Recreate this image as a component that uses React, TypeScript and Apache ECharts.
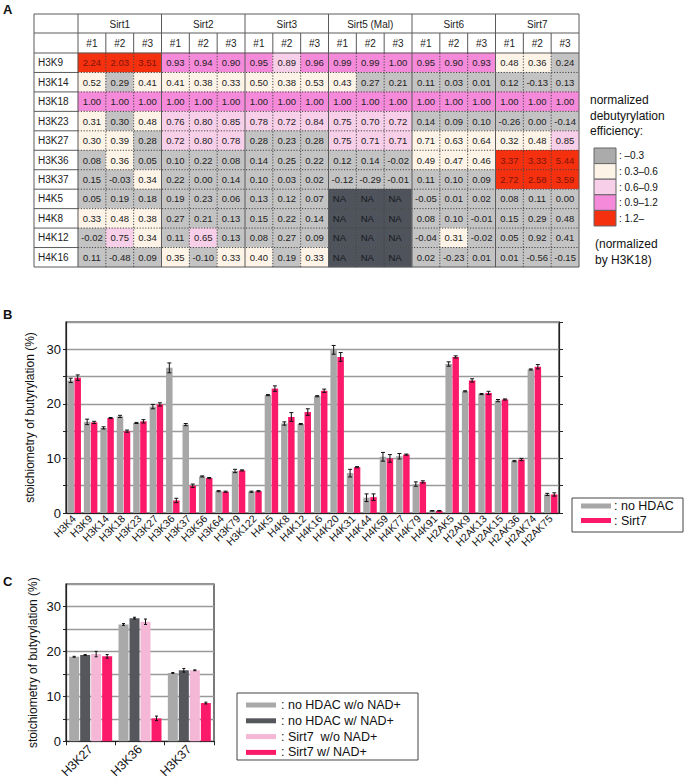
import React, { useEffect, useRef } from 'react';
import * as echarts from 'echarts';

// ---------- Panel A data ----------
const HM_ROWS = ['H3K9', 'H3K14', 'H3K18', 'H3K23', 'H3K27', 'H3K36', 'H3K37', 'H4K5', 'H4K8', 'H4K12', 'H4K16'];
const HM_GROUPS = ['Sirt1', 'Sirt2', 'Sirt3', 'Sirt5 (Mal)', 'Sirt6', 'Sirt7'];
const HM_REPS = ['#1', '#2', '#3'];
const NA = null;
const HM_VALUES: (number | null)[][] = [
  [2.24, 2.03, 3.51, 0.93, 0.94, 0.90, 0.95, 0.89, 0.96, 0.99, 0.99, 1.00, 0.95, 0.90, 0.93, 0.48, 0.36, 0.24],
  [0.52, 0.29, 0.41, 0.41, 0.38, 0.33, 0.50, 0.38, 0.53, 0.43, 0.27, 0.21, 0.11, 0.03, 0.01, 0.12, -0.13, 0.13],
  [1.00, 1.00, 1.00, 1.00, 1.00, 1.00, 1.00, 1.00, 1.00, 1.00, 1.00, 1.00, 1.00, 1.00, 1.00, 1.00, 1.00, 1.00],
  [0.31, 0.30, 0.48, 0.76, 0.80, 0.85, 0.78, 0.72, 0.84, 0.75, 0.70, 0.72, 0.14, 0.09, 0.10, -0.26, 0.00, -0.14],
  [0.30, 0.39, 0.28, 0.72, 0.80, 0.78, 0.28, 0.23, 0.28, 0.75, 0.71, 0.71, 0.71, 0.63, 0.64, 0.32, 0.48, 0.85],
  [0.08, 0.36, 0.05, 0.10, 0.22, 0.08, 0.14, 0.25, 0.22, 0.12, 0.14, -0.02, 0.49, 0.47, 0.46, 3.37, 3.33, 5.44],
  [0.15, -0.03, 0.34, 0.22, 0.00, 0.14, 0.10, 0.03, 0.02, -0.12, -0.29, -0.01, 0.11, 0.10, 0.09, 2.72, 2.58, 3.59],
  [0.05, 0.19, 0.18, 0.19, 0.23, 0.06, 0.13, 0.12, 0.07, NA, NA, NA, -0.05, 0.01, 0.02, 0.08, 0.11, 0.00],
  [0.33, 0.48, 0.38, 0.27, 0.21, 0.13, 0.15, 0.22, 0.14, NA, NA, NA, 0.08, 0.10, -0.01, 0.15, 0.29, 0.48],
  [-0.02, 0.75, 0.34, 0.11, 0.65, 0.13, 0.08, 0.27, 0.09, NA, NA, NA, -0.04, 0.31, -0.02, 0.05, 0.92, 0.41],
  [0.11, -0.48, 0.09, 0.35, -0.10, 0.33, 0.40, 0.19, 0.33, NA, NA, NA, 0.02, -0.23, 0.01, 0.01, -0.56, -0.15],
];
// colour class per cell: G gray, C cream, L light pink, M magenta, R red, N not available
const HM_CLASSES = [
  'RRRMMMMLMMMMMMMCCG',
  'CGCCCCCCCCGGGGGGGG',
  'MMMMMMMMMMMMMMMMMM',
  'CGCLLLLLLLLLGGGGGG',
  'CCGLLLGGGLLLCCCCCL',
  'GCGGGGGGGGGGCCCRRR',
  'GGCGGGGGGGGGGGGRRR',
  'GGGGGGGGGNNNGGGGGG',
  'CCCGGGGGGNNNGGGGGG',
  'GLCGLGGGGNNNGCGGGG',
  'GGGCGCCGCNNNGGGGGG',
];
const CLASS_KEYS = ['G', 'C', 'L', 'M', 'R', 'N'];
const CLASS_COLORS = ['#c3c3c3', '#fdf4e7', '#f8cfe9', '#f68ada', '#f5300f', '#4f535b'];
const CLASS_TEXT = ['#222', '#222', '#222', '#222', '#7e1408', '#15171d'];
const LEGEND_A_LABELS = [': –0.3', ': 0.3–0.6', ': 0.6–0.9', ': 0.9–1.2', ': 1.2–'];
const LEGEND_A_COLORS = ['#ababab', '#fdf4e7', '#f8cfe9', '#f68ada', '#f5300f'];

// ---------- Panel B data ----------
const B_CATS = ['H3K4', 'H3K9', 'H3K14', 'H3K18', 'H3K23', 'H3K27', 'H3K36', 'H3K37', 'H3K56', 'H3K64', 'H3K79', 'H3K122',
  'H4K5', 'H4K8', 'H4K12', 'H4K16', 'H4K20', 'H4K31', 'H4K44', 'H4K59', 'H4K77', 'H4K79', 'H4K91',
  'H2AK5', 'H2AK9', 'H2AK13', 'H2AK15', 'H2AK36', 'H2AK74', 'H2AK75'];
const B_NOHDAC = [24.3, 16.7, 15.6, 17.7, 16.5, 19.5, 26.6, 16.2, 6.7, 4.0, 7.7, 3.9, 21.6, 16.4, 16.3, 21.4, 29.9, 7.3, 2.8, 10.3, 10.4, 5.3, 0.4, 27.3, 22.3, 21.8, 20.6, 9.5, 26.3, 3.4];
const B_NOHDAC_ERR = [0.4, 0.5, 0.2, 0.2, 0.1, 0.4, 0.9, 0.2, 0.1, 0.1, 0.3, 0.1, 0.1, 0.3, 0.1, 0.1, 0.8, 0.7, 0.7, 0.8, 0.5, 0.4, 0.05, 0.4, 0.1, 0.1, 0.2, 0.1, 0.1, 0.2];
const B_SIRT7 = [24.8, 16.6, 17.4, 15.0, 16.8, 19.9, 2.3, 5.0, 6.4, 3.9, 7.8, 4.0, 22.8, 17.6, 18.5, 22.4, 28.6, 8.4, 2.9, 10.0, 10.7, 5.7, 0.4, 28.6, 24.3, 22.0, 20.8, 9.8, 26.8, 3.4];
const B_SIRT7_ERR = [0.5, 0.2, 0.1, 0.2, 0.3, 0.3, 0.4, 0.3, 0.1, 0.1, 0.1, 0.1, 0.5, 0.8, 0.6, 0.3, 0.8, 0.1, 0.6, 0.7, 0.1, 0.2, 0.05, 0.2, 0.3, 0.3, 0.1, 0.2, 0.4, 0.3];
const B_SERIES = [': no HDAC', ': Sirt7'];
const B_COLORS = ['#a7a7a7', '#fb1a6a'];

// ---------- Panel C data ----------
const C_CATS = ['H3K27', 'H3K36', 'H3K37'];
const C_NAMES = [': no HDAC w/o NAD+', ': no HDAC w/ NAD+', ': Sirt7  w/o NAD+', ': Sirt7 w/ NAD+'];
const C_NOHDAC_NONAD = [18.8, 26.0, 15.2];
const C_NOHDAC_NAD = [19.2, 27.4, 15.8];
const C_SIRT7_NONAD = [19.4, 26.6, 15.8];
const C_SIRT7_NAD = [18.9, 5.1, 8.5];
const C_NOHDAC_NONAD_ERR = [0.1, 0.2, 0.1];
const C_NOHDAC_NAD_ERR = [0.1, 0.2, 0.4];
const C_SIRT7_NONAD_ERR = [0.6, 0.6, 0.1];
const C_SIRT7_NAD_ERR = [0.4, 0.5, 0.2];
const C_COLORS = ['#a9a9a9', '#55575d', '#f4b8d6', '#fb1a6a'];

const FONT = '"Liberation Sans", Arial, Helvetica, sans-serif';

// layout of panel A table
const TL = 34, GL = 78, GR = 579, TT = 14, H1 = 33, GT = 53, GB = 267;

function errSeries(xi: number, yi: number, vals: number[], errs: number[], offset: number, cap: number) {
  return {
    type: 'custom', xAxisIndex: xi, yAxisIndex: yi, z: 6, silent: true,
    data: vals.map((v, i) => [i, v, errs[i]]),
    renderItem: (_p: any, api: any) => {
      const i = api.value(0), v = api.value(1), e = api.value(2);
      const hi = api.coord([i, v + e]);
      const lo = api.coord([i, v - e]);
      const x = hi[0] + offset;
      const style = { stroke: '#111', lineWidth: 1 };
      return {
        type: 'group', children: [
          { type: 'line', shape: { x1: x, y1: hi[1], x2: x, y2: lo[1] }, style },
          { type: 'line', shape: { x1: x - cap, y1: hi[1], x2: x + cap, y2: hi[1] }, style },
          { type: 'line', shape: { x1: x - cap, y1: lo[1], x2: x + cap, y2: lo[1] }, style },
        ],
      };
    },
  };
}

function buildOption() {
  const nCols = HM_GROUPS.length * HM_REPS.length;
  const cw = (GR - GL) / nCols;
  const rh = (GB - GT) / HM_ROWS.length;

  const hmData: any[] = [];
  HM_VALUES.forEach((row, r) => row.forEach((v, c) => {
    const cls = CLASS_KEYS.indexOf(HM_CLASSES[r][c]);
    hmData.push({
      value: [c, r, cls],
      label: { color: CLASS_TEXT[cls], offset: v === null ? [-3, 0] : [0, 0] },
    });
  }));

  const solid = { stroke: '#5a5a5a', lineWidth: 1 };
  const dotted = { stroke: '#444', lineWidth: 1, lineDash: [1.2, 1.6] };
  const g: any[] = [];
  const line = (x1: number, y1: number, x2: number, y2: number, style: any) =>
    g.push({ type: 'line', z: 10, silent: true, shape: { x1, y1, x2, y2 }, style });
  // table frame
  g.push({ type: 'rect', z: 10, silent: true, shape: { x: TL, y: TT, width: GR - TL, height: GB - TT }, style: { fill: 'none', ...solid } });
  line(TL, H1, GR, H1, solid);
  line(TL, GT, GR, GT, solid);
  for (let k = 1; k < HM_ROWS.length; k++) {
    const y = GT + k * rh;
    line(TL, y, GL, y, solid);
    line(GL, y, GR, y, dotted);
  }
  line(GL, TT, GL, GB, solid);
  for (let c = 1; c < nCols; c++) {
    const x = GL + c * cw;
    if (c % 3 === 0) line(x, TT, x, GB, solid);
    else { line(x, H1, x, GT, solid); line(x, GT, x, GB, dotted); }
  }
  const txt = (text: string, x: number, y: number, size: number, extra: any = {}) =>
    g.push({ type: 'text', z: 10, silent: true, x, y, style: { text, fontSize: size, fontFamily: FONT, fill: '#111', align: 'left', verticalAlign: 'middle', ...extra } });
  // panel letters
  txt('A', 3, 9, 13, { fontWeight: 'bold' });
  txt('B', 3, 314, 13, { fontWeight: 'bold' });
  txt('C', 3, 581, 13, { fontWeight: 'bold' });
  // legend A
  txt('normalized', 590, 100, 12);
  txt('debutyrylation', 590, 116, 12);
  txt('efficiency:', 590, 131, 12);
  const sh = (226 - 148) / LEGEND_A_LABELS.length;
  LEGEND_A_LABELS.forEach((lab, i) => {
    g.push({ type: 'rect', z: 10, silent: true, shape: { x: 594, y: 148 + i * sh, width: 22, height: sh }, style: { fill: LEGEND_A_COLORS[i], stroke: '#666', lineWidth: 1 } });
    txt(lab, 619, 148 + (i + 0.5) * sh, 10);
  });
  txt('(normalized', 595, 244, 12);
  txt('by H3K18)', 595, 260, 12);
  // legend B
  g.push({ type: 'rect', z: 10, silent: true, shape: { x: 572, y: 498, width: 111, height: 34 }, style: { fill: '#fff', stroke: '#444', lineWidth: 1 } });
  B_SERIES.forEach((s, i) => {
    const cy = 506 + i * 14.5;
    g.push({ type: 'rect', z: 10, silent: true, shape: { x: 581, y: cy - 2.5, width: 30, height: 5 }, style: { fill: B_COLORS[i] } });
    txt(s, 614, cy, 12.5);
  });
  // legend C
  g.push({ type: 'rect', z: 10, silent: true, shape: { x: 237, y: 693, width: 181, height: 67 }, style: { fill: '#fff', stroke: '#444', lineWidth: 1 } });
  C_NAMES.forEach((s, i) => {
    const cy = 705 + i * 15.8;
    g.push({ type: 'rect', z: 10, silent: true, shape: { x: 246, y: cy - 2.5, width: 30, height: 5 }, style: { fill: C_COLORS[i] } });
    txt(s, 281, cy, 12.5, { whiteSpace: 'pre' });
  });

  const bBW = 6.5, bGapPx = 0.5;
  const bOff = (bBW + bGapPx) / 2;
  const cBW = 10, cGapPx = 1;
  const cVals = [C_NOHDAC_NONAD, C_NOHDAC_NAD, C_SIRT7_NONAD, C_SIRT7_NAD];
  const cErrs = [C_NOHDAC_NONAD_ERR, C_NOHDAC_NAD_ERR, C_SIRT7_NONAD_ERR, C_SIRT7_NAD_ERR];

  const labelEvery10 = (v: number) => (v % 10 === 0 ? String(v) : '');
  const gridLine = { show: true, lineStyle: { color: '#9a9a9a', width: 1.3 } };
  const axisBlack = { show: true, lineStyle: { color: '#222', width: 1.2 } };
  const yName = 'stoichiometry of butyrylation (%)';

  return {
    animation: false,
    textStyle: { fontFamily: FONT },
    grid: [
      { left: GL, top: GT, width: GR - GL, height: GB - GT },
      { left: 66, top: 322, width: 493, height: 191, show: true, borderColor: '#222', borderWidth: 1.2 },
      { left: 66, top: 584, width: 148, height: 158, show: true, borderColor: '#222', borderWidth: 1.2 },
    ],
    xAxis: [
      {
        gridIndex: 0, type: 'category', position: 'top',
        data: HM_GROUPS.flatMap(() => HM_REPS),
        axisLine: { show: false }, axisTick: { show: false }, splitLine: { show: false },
        axisLabel: { margin: 10, verticalAlign: 'middle', fontSize: 10, color: '#222', interval: 0 },
      },
      {
        gridIndex: 0, type: 'category', position: 'top', data: HM_GROUPS,
        axisLine: { show: false }, axisTick: { show: false }, splitLine: { show: false },
        axisLabel: { margin: 29, verticalAlign: 'middle', fontSize: 10, color: '#222', interval: 0 },
      },
      {
        gridIndex: 1, type: 'category', data: B_CATS,
        axisLine: axisBlack, axisTick: { show: false },
        axisLabel: { rotate: 45, interval: 0, fontSize: 10.5, margin: 4, color: '#111' },
      },
      {
        gridIndex: 2, type: 'category', data: C_CATS,
        axisLine: axisBlack, axisTick: { show: true, length: 4, lineStyle: { color: '#222' } },
        axisLabel: { rotate: 45, interval: 0, fontSize: 12.5, margin: 6, color: '#111' },
      },
    ],
    yAxis: [
      {
        gridIndex: 0, type: 'category', data: HM_ROWS, inverse: true,
        axisLine: { show: false }, axisTick: { show: false }, splitLine: { show: false },
        axisLabel: { align: 'left', margin: 40, fontSize: 10, color: '#222' },
      },
      {
        gridIndex: 1, type: 'value', min: 0, max: 35, interval: 5,
        axisLine: axisBlack, axisTick: { show: true, length: 3, lineStyle: { color: '#222' } },
        splitLine: gridLine,
        axisLabel: { formatter: labelEvery10, fontSize: 13, color: '#111', margin: 5, showMaxLabel: false },
        name: yName, nameLocation: 'middle', nameGap: 27, nameTextStyle: { fontSize: 12, color: '#111' },
      },
      {
        gridIndex: 1, type: 'value', position: 'right', min: 0, max: 35, interval: 5,
        axisLine: axisBlack, axisTick: { show: true, length: 4, lineStyle: { color: '#222' } },
        splitLine: { show: false }, axisLabel: { show: false },
      },
      {
        gridIndex: 2, type: 'value', min: 0, max: 35, interval: 5,
        axisLine: axisBlack, axisTick: { show: true, length: 3, lineStyle: { color: '#222' } },
        splitLine: gridLine,
        axisLabel: { formatter: labelEvery10, fontSize: 13, color: '#111', margin: 5, showMaxLabel: false },
        name: yName, nameLocation: 'middle', nameGap: 27, nameTextStyle: { fontSize: 12, color: '#111' },
      },
    ],
    visualMap: [{
      type: 'piecewise', show: false, seriesIndex: 0, dimension: 2,
      pieces: CLASS_COLORS.map((c, i) => ({ value: i, color: c })),
    }],
    graphic: { elements: g },
    series: [
      {
        type: 'heatmap', xAxisIndex: 0, yAxisIndex: 0, data: hmData,
        emphasis: { disabled: true },
        label: {
          show: true, fontSize: 9.5, fontFamily: FONT,
          formatter: (p: any) => {
            const v = HM_VALUES[p.value[1]][p.value[0]];
            return v === null ? 'NA' : v.toFixed(2);
          },
        },
      },
      {
        type: 'bar', name: B_SERIES[0], xAxisIndex: 2, yAxisIndex: 1, data: B_NOHDAC,
        barWidth: bBW, barGap: `${(bGapPx / bBW) * 100}%`, itemStyle: { color: B_COLORS[0] },
      },
      {
        type: 'bar', name: B_SERIES[1], xAxisIndex: 2, yAxisIndex: 1, data: B_SIRT7,
        barWidth: bBW, barGap: `${(bGapPx / bBW) * 100}%`, itemStyle: { color: B_COLORS[1] },
      },
      errSeries(2, 1, B_NOHDAC, B_NOHDAC_ERR, -bOff, 2),
      errSeries(2, 1, B_SIRT7, B_SIRT7_ERR, bOff, 2),
      ...cVals.map((vals, k) => ({
        type: 'bar', name: C_NAMES[k], xAxisIndex: 3, yAxisIndex: 3, data: vals,
        barWidth: cBW, barGap: `${(cGapPx / cBW) * 100}%`, itemStyle: { color: C_COLORS[k] },
      })),
      ...cVals.map((vals, k) => errSeries(3, 3, vals, cErrs[k], (k - 1.5) * (cBW + cGapPx), 1.5)),
    ],
  };
}

export default function App() {
  const ref = useRef<HTMLDivElement>(null);
  useEffect(() => {
    const chart = echarts.init(ref.current!, null, { renderer: 'svg' });
    chart.setOption(buildOption() as any);
    return () => chart.dispose();
  }, []);
  return <div ref={ref} style={{ position: 'absolute', left: 0, top: 0, width: 685, height: 781, background: '#fff' }} />;
}
